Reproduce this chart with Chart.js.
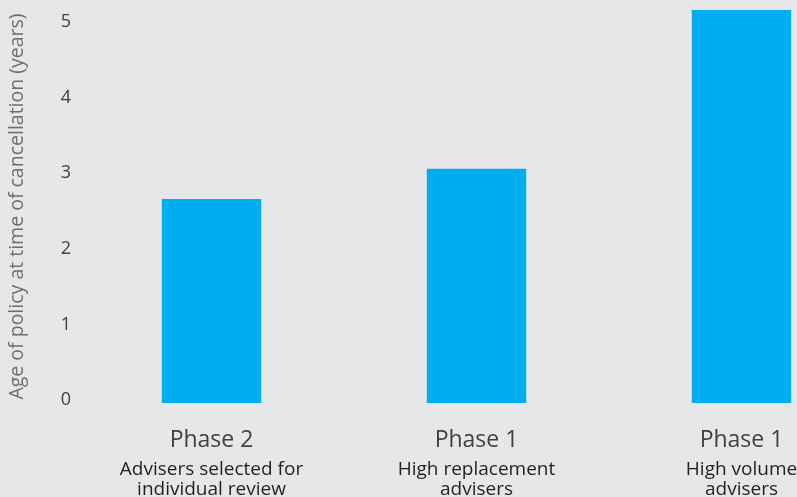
<!DOCTYPE html>
<html>
<head>
<meta charset="utf-8">
<script src="https://cdn.jsdelivr.net/npm/chart.js@4"></script>
<style>
  html, body { margin: 0; padding: 0; background: #e6e7e8; overflow: hidden; }
  #wrap { position: relative; width: 880px; height: 497px; }
</style>
</head>
<body>
<div id="wrap"><canvas id="chart"></canvas></div>
<script>
/* ---------- data ---------- */
const phases    = ['Phase 2', 'Phase 1', 'Phase 1'];
const groups    = [['Advisers selected for', 'individual review'], ['High replacement', 'advisers'], ['High volume', 'advisers']];
const ageYears  = [2.7, 3.1, 5.2];
const yTicks    = [0, 1, 2, 3, 4, 5];
const yTitle    = 'Age of policy at time of cancellation (years)';

/* ---------- chart ---------- */
const FONT = "'Open Sans', sans-serif";
const ctx = document.getElementById('chart').getContext('2d');
new Chart(ctx, {
  type: 'bar',
  data: {
    labels: phases,
    datasets: [{
      data: ageYears,
      backgroundColor: '#00aeef',
      borderWidth: 0,
      barPercentage: 0.75,
      categoryPercentage: 0.5
    }]
  },
  options: {
    responsive: true,
    maintainAspectRatio: false,
    animation: false,
    layout: { padding: { left: 0, right: 6, top: 10, bottom: 0 } },
    plugins: { legend: { display: false }, tooltip: { enabled: false } },
    scales: {
      x: {
        weight: 0,
        grid: { display: false, drawTicks: false },
        border: { display: false },
        afterFit: s => { s.height = 50; s.paddingLeft = 0; s.paddingRight = 0; },
        ticks: { color: '#414042', padding: 24, font: { family: FONT, size: 23, lineHeight: 1.2 }, maxRotation: 0, autoSkip: false }
      },
      x2: {
        type: 'category',
        position: 'bottom',
        weight: 1,
        labels: groups,
        grid: { display: false, drawTicks: false },
        border: { display: false },
        afterFit: s => { s.height = 44; s.paddingLeft = 0; s.paddingRight = 0; },
        ticks: { color: '#231f20', padding: 7, font: { family: FONT, size: 19, lineHeight: 20 / 19 }, maxRotation: 0, autoSkip: false }
      },
      y: {
        min: 0,
        max: 5.2,
        afterBuildTicks: s => { s.ticks = yTicks.map(v => ({ value: v })); },
        afterFit: s => { s.width = 79; s.paddingTop = 0; s.paddingBottom = 0; },
        grid: { display: false, drawTicks: false },
        border: { display: false },
        ticks: { color: '#414042', padding: 8, labelOffset: -3, font: { family: FONT, size: 18 } },
        title: {
          display: true,
          text: yTitle,
          color: '#6d6e71',
          padding: { top: 6, bottom: 4 },
          font: { family: FONT, size: 19.5 }
        }
      }
    }
  }
});
</script>
</body>
</html>
